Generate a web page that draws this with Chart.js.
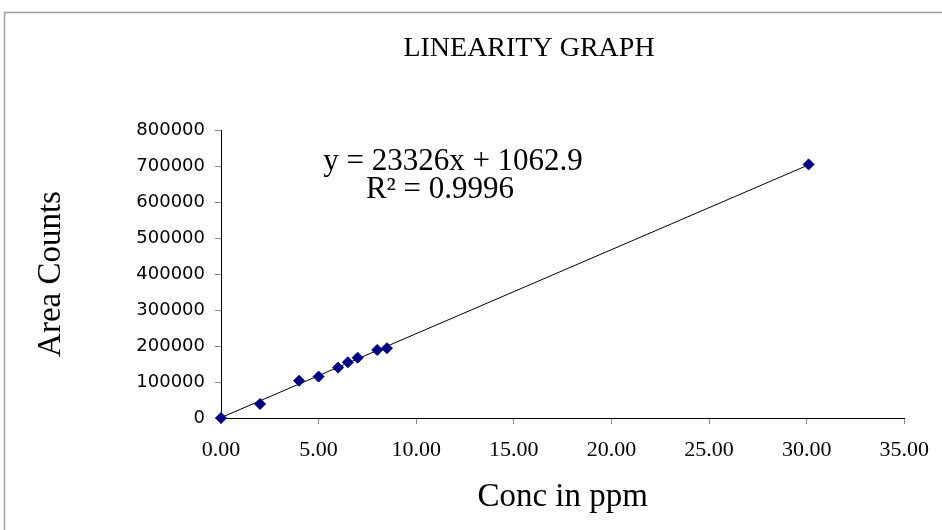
<!DOCTYPE html>
<html>
<head>
<meta charset="utf-8">
<script src="https://cdn.jsdelivr.net/npm/chart.js@4.4.1/dist/chart.umd.min.js"></script>
<style>
  html, body { margin: 0; padding: 0; background: #fff; }
  #wrap { width: 942px; height: 530px; position: relative; }
</style>
</head>
<body>
<div id="wrap"><canvas id="linChart" width="942" height="530"></canvas></div>
<script>
/* ===== data ===== */
const concPpm = [0, 2, 4, 5, 6, 6.5, 7, 8, 8.5, 30.1];
const areaCounts = [0, 39000, 103500, 115000, 140000, 155000, 167500, 189000, 194000, 704500];

// trendline end points (y = 23326x + 1062.9)
const trendX = [0, 30.1];
const trendY = [1063, 703176];

const xTicks = ["0.00", "5.00", "10.00", "15.00", "20.00", "25.00", "30.00", "35.00"];
const yTicks = ["0", "100000", "200000", "300000", "400000", "500000", "600000", "700000", "800000"];

const titleText = "LINEARITY GRAPH";
const eqLine1 = "y = 23326x + 1062.9";
const eqLine2 = "R\u00B2 = 0.9996";

const serif = "'Liberation Serif', 'Times New Roman', serif";

/* ===== frame, title and equation text ===== */
const extras = {
  id: "extras",
  beforeDraw(chart) {
    const ctx = chart.ctx;
    ctx.save();
    ctx.fillStyle = "#fff";
    ctx.fillRect(0, 0, chart.width, chart.height);
    ctx.strokeStyle = "#a0a0a0";
    ctx.lineWidth = 1.5;
    ctx.beginPath();
    ctx.moveTo(4.5, chart.height);
    ctx.lineTo(4.5, 12.5);
    ctx.lineTo(chart.width, 12.5);
    ctx.stroke();
    ctx.restore();
  },
  afterDraw(chart) {
    const ctx = chart.ctx;
    ctx.save();
    ctx.fillStyle = "#000";
    ctx.textAlign = "center";
    ctx.textBaseline = "middle";
    ctx.font = "28px " + serif;
    ctx.fillText(titleText, 529, 49);
    ctx.font = "31px " + serif;
    ctx.fillText(eqLine1, 453, 162);
    ctx.fillText(eqLine2, 440, 190);
    ctx.restore();
  }
};

const ctx = document.getElementById("linChart").getContext("2d");

new Chart(ctx, {
  type: "scatter",
  data: {
    datasets: [
      {
        label: "Area",
        data: concPpm.map((x, i) => ({ x: x, y: areaCounts[i] })),
        pointStyle: "rectRot",
        pointRadius: 5.5,
        pointHoverRadius: 5.5,
        backgroundColor: "#000080",
        borderColor: "#000080",
        borderWidth: 1,
        clip: false,
        order: 1
      },
      {
        label: "Linear",
        type: "line",
        data: trendX.map((x, i) => ({ x: x, y: trendY[i] })),
        borderColor: "#000",
        borderWidth: 1,
        pointRadius: 0,
        fill: false,
        order: 2
      }
    ]
  },
  options: {
    responsive: false,
    animation: false,
    layout: { padding: { left: 0, top: 130, right: 36, bottom: 0 } },
    plugins: {
      legend: { display: false },
      tooltip: { enabled: false }
    },
    scales: {
      x: {
        type: "linear",
        min: 0,
        max: 35,
        afterFit(scale) { scale.height = 112; },
        afterBuildTicks(scale) {
          scale.ticks = xTicks.map(t => ({ value: parseFloat(t) }));
        },
        ticks: {
          padding: 13,
          color: "#000",
          font: { family: serif, size: 22 },
          callback: (v) => xTicks.find(t => parseFloat(t) === v)
        },
        grid: { drawOnChartArea: false, tickLength: 6, tickColor: "#888" },
        border: { color: "#000", width: 1 },
        title: {
          display: true,
          text: "Conc in ppm",
          color: "#000",
          font: { family: serif, size: 33 },
          padding: { top: 0, bottom: 13 }
        }
      },
      y: {
        type: "linear",
        min: 0,
        max: 800000,
        afterFit(scale) { scale.width = 221; },
        afterBuildTicks(scale) {
          scale.ticks = yTicks.map(t => ({ value: Number(t) }));
        },
        ticks: {
          padding: 10,
          color: "#000",
          font: { family: "'DejaVu Sans', Verdana, sans-serif", size: 18 },
          callback: (v) => String(v)
        },
        grid: { drawOnChartArea: false, tickLength: 6, tickColor: "#888" },
        border: { color: "#000", width: 1 },
        title: {
          display: true,
          text: "Area Counts",
          color: "#000",
          font: { family: serif, size: 33 },
          padding: { top: 32, bottom: 0 }
        }
      }
    }
  },
  plugins: [extras]
});
</script>
</body>
</html>
